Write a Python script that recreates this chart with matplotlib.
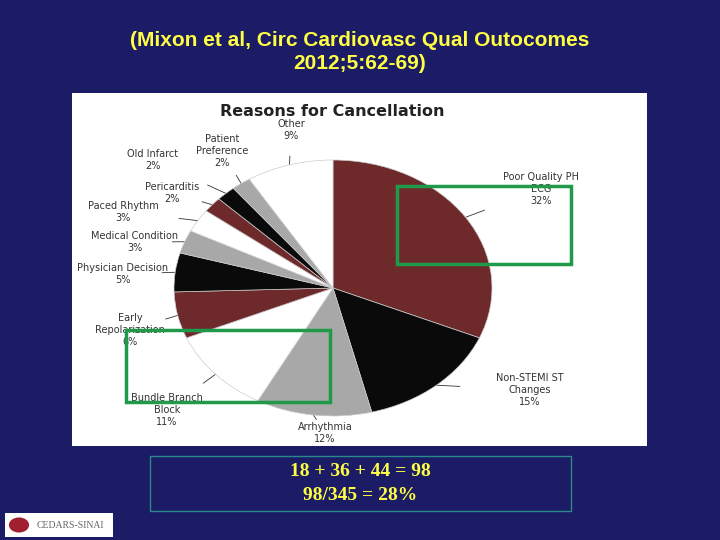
import matplotlib
matplotlib.use("Agg")
import matplotlib.pyplot as plt
from matplotlib.patches import Rectangle, Circle
import numpy as np

categories = ["Poor Quality PH\nECG", "Non-STEMI ST\nChanges", "Arrhythmia", "Bundle Branch\nBlock",
              "Early\nRepolarization", "Physician Decision", "Medical Condition", "Paced Rhythm",
              "Pericarditis", "Old Infarct", "Patient\nPreference", "Other"]
values = [32, 15, 12, 11, 6, 5, 3, 3, 2, 2, 2, 9]
colors = ["#6e2a2a", "#0a0a0a", "#a8a8a8", "#ffffff", "#6e2a2a", "#0a0a0a", "#a8a8a8", "#ffffff",
          "#6e2a2a", "#0a0a0a", "#a8a8a8", "#ffffff"]
label_pos = [(541, 189), (530, 390), (325, 433), (167, 410), (130, 330), (123, 274), (135, 242),
             (123, 212), (172, 193), (153, 160), (222, 151), (291, 130)]

W, H = 720, 540
fig = plt.figure(figsize=(7.2, 5.4), dpi=100)
fig.patch.set_facecolor("#1b1b66")

def fx(x): return x / W
def fy(y): return 1 - y / H

# white chart panel
fig.patches.append(Rectangle((fx(72), fy(446)), (647 - 72) / W, (446 - 93) / H,
                             transform=fig.transFigure, facecolor="white", edgecolor="none", zorder=-5))

cx, cy, rx, ry = 333, 288, 159, 128
ax = fig.add_axes([fx(cx - rx), fy(cy + ry), 2 * rx / W, 2 * ry / H])
ax.set_zorder(2)
ax.patch.set_alpha(0)
wedges, _ = ax.pie(values, colors=colors, startangle=90, counterclock=False,
                   wedgeprops=dict(edgecolor="#cccccc", linewidth=0.5))
ax.set_aspect("auto")
ax.set_xlim(-1, 1); ax.set_ylim(-1, 1)
ax.axis("off")

for w, lab, v, (lx, ly) in zip(wedges, categories, values, label_pos):
    ang = np.deg2rad((w.theta1 + w.theta2) / 2)
    px = cx + rx * np.cos(ang); py = cy - ry * np.sin(ang)
    fig.text(fx(lx), fy(ly), f"{lab}\n{v}%", ha="center", va="center", fontsize=7,
             color="#333333", linespacing=1.3)
    fig.add_artist(plt.Line2D([fx(px), fx(px + (lx - px) * 0.25)], [fy(py), fy(py + (ly - py) * 0.25)],
                              color="#333333", lw=0.6))

fig.text(fx(332), fy(112), "Reasons for Cancellation", ha="center", va="center",
         fontsize=11.5, fontweight="bold", color="#222222")

for (x0, y0, x1, y1) in [(397, 186, 571, 264), (126, 330, 330, 402)]:
    fig.add_artist(Rectangle((fx(x0), fy(y1)), (x1 - x0) / W, (y1 - y0) / H,
                             transform=fig.transFigure, fill=False, edgecolor="#1f9a4a", lw=2.5, zorder=10))

fig.text(0.5, fy(52), "(Mixon et al, Circ Cardiovasc Qual Outocomes\n2012;5:62-69)", ha="center",
         va="center", fontsize=15, color="#ffff44", fontweight="bold", family="Liberation Sans",
         linespacing=1.25)

fig.patches.append(Rectangle((fx(150), fy(511)), (571 - 150) / W, (511 - 456) / H,
                             transform=fig.transFigure, fill=False, edgecolor="#2a8a8a", lw=1))
fig.text(fx(360), fy(472), "18 + 36 + 44 = 98", ha="center", va="center", fontsize=14,
         color="#ffff44", fontweight="bold", family="Liberation Serif")
fig.text(fx(360), fy(496), "98/345 = 28%", ha="center", va="center", fontsize=14,
         color="#ffff44", fontweight="bold", family="Liberation Serif")

fig.patches.append(Rectangle((fx(5), fy(537)), 108 / W, 24 / H, transform=fig.transFigure,
                             facecolor="white", edgecolor="none"))
fig.patches.append(Circle((fx(19), fy(525)), 0.014, transform=fig.transFigure,
                          facecolor="#a02030", edgecolor="none"))
fig.text(fx(70), fy(525), "CEDARS-SINAI", ha="center", va="center", fontsize=7,
         color="#666666", family="Liberation Serif")

fig.savefig("out.png", dpi=100, facecolor=fig.get_facecolor())
